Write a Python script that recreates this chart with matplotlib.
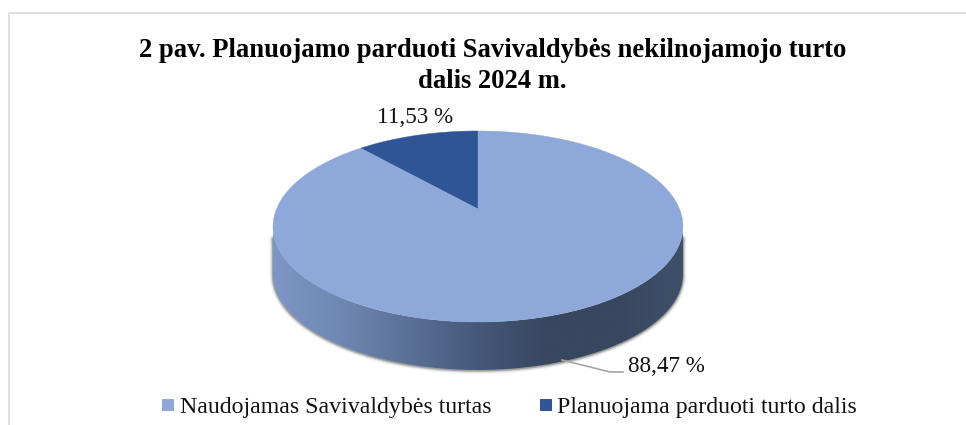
import numpy as np
import matplotlib
matplotlib.use('Agg')
import matplotlib.pyplot as plt
from matplotlib.colors import LinearSegmentedColormap
from matplotlib.patches import Polygon, Rectangle

# Chart data
categories = ['Naudojamas Savivaldybės turtas', 'Planuojama parduoti turto dalis']
shares = [88.47, 11.53]
share_labels = ['88,47 %', '11,53 %']
title = '2 pav. Planuojamo parduoti Savivaldybės nekilnojamojo turto\ndalis 2024 m.'
colors = ['#8DA8D9', '#2F5597']

plt.rcParams['font.family'] = ['Liberation Serif', 'DejaVu Serif']

# pie tilted in perspective, apex is not the middle of the ellipse
cx, cy = 478, 209
A, B, k = 201.5, 92.3, 0.183
depth = 48


def project(theta):
    u, v = np.sin(theta), np.cos(theta)
    w = 1 + k * v
    return cx + A * u / w, cy - B * v / w


fig = plt.figure(figsize=(9.66, 4.25), dpi=100)
ax = fig.add_axes([0, 0, 1, 1])

# chart frame, cut off by the right and bottom of the page
ax.plot([9, 9, 966], [425, 13, 13], color='#D9D9D9', lw=1.2)

# side of the pie
t = np.linspace(0, 2 * np.pi, 721)
ex, ey = project(t)
i0, i1 = np.argmax(ex), np.argmin(ex)
sx, sy = ex[i0:i1 + 1], ey[i0:i1 + 1]
side = np.vstack([np.column_stack([sx, sy]),
                  np.column_stack([sx[::-1], sy[::-1] + depth])])

# soft shadow under the side, a bit lower than the pie
shadow = side[:len(sx)].copy()
shadow = np.vstack([shadow + [0, 12], np.column_stack([sx[::-1], sy[::-1] + depth + 0.5])])
for lw, a in [(5, 0.05), (3.5, 0.10), (2.2, 0.16), (1.2, 0.25)]:
    ax.add_patch(Polygon(shadow, closed=True, fc='none', ec='#303030',
                         lw=lw, alpha=a, joinstyle='round', zorder=1))

cmap = LinearSegmentedColormap.from_list(
    'side', ['#7D96C6', '#6F87B2', '#5A7096', '#44587A', '#37475F', '#37475F', '#3E5069'])
grad = ax.imshow(np.linspace(0, 1, 256)[None, :], cmap=cmap, aspect='auto',
                 extent=[ex.min(), ex.max(), cy + 175, cy - 10], zorder=2)
clip = Polygon(side, closed=True, transform=ax.transData, fc='none', ec='none')
ax.add_patch(clip)
grad.set_clip_path(clip)

# top of the pie, going anticlockwise from 12 o'clock like the original
fractions = np.array(shares[::-1]) / sum(shares)
edges = np.concatenate([[0], np.cumsum(fractions)]) * 2 * np.pi
for start, stop, col in zip(edges[:-1], edges[1:], colors[::-1]):
    th = np.linspace(-start, -stop, 400)
    wx, wy = project(th)
    ax.fill(np.r_[cx, wx], np.r_[cy, wy], color=col, lw=0.3, zorder=3)

# texts
ax.text(492.5, 66, title, ha='center', va='center', fontsize=19.2,
        fontweight='bold', color='black', linespacing=1.33)
ax.text(415, 117, share_labels[1], ha='center', va='center', fontsize=16.7, color='#111111')
ax.text(628, 367, share_labels[0], ha='left', va='center', fontsize=16.7, color='#111111')
ax.plot([562, 610, 623], [360, 372, 372], color='#A6A6A6', lw=1.2, zorder=4)

# legend
for x0, xt, name, col in zip([162, 540], [180, 557], categories, colors):
    ax.add_patch(Rectangle((x0, 399), 12, 12, fc=col, ec='none'))
    ax.text(xt, 407, name, ha='left', va='center', fontsize=17.2, color='#111111')

ax.set_xlim(0, 966)
ax.set_ylim(425, 0)
ax.axis('off')

fig.savefig('out.png', dpi=100)
